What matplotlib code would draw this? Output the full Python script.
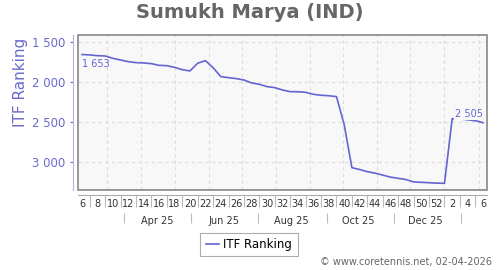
import matplotlib

matplotlib.use("Agg")
import matplotlib.dates as mdates
import matplotlib.pyplot as plt
import pandas as pd
from matplotlib.patches import Rectangle

# weekly ITF ranking, week 6 2025 -> week 6 2026
ranking = [
    1653, 1658, 1667, 1671, 1700, 1721, 1742, 1754, 1758, 1767,
    1788, 1792, 1813, 1842, 1858, 1762, 1729, 1817, 1929, 1942,
    1954, 1971, 2008, 2025, 2054, 2067, 2096, 2117, 2118, 2125,
    2150, 2162, 2168, 2179, 2530, 3067, 3090, 3117, 3135, 3160,
    3185, 3200, 3215, 3245, 3250, 3255, 3260, 3263, 2455, 2458,
    2468, 2480, 2505,
]
week_labels = ["6", "8", "10", "12", "14", "16", "18", "20", "22", "24",
               "26", "28", "30", "32", "34", "36", "38", "40", "42", "44",
               "46", "48", "50", "52", "2", "4", "6"]
month_labels = ["Apr 25", "Jun 25", "Aug 25", "Oct 25", "Dec 25"]
month_label_dates = ["2025-04-15", "2025-06-15", "2025-08-15",
                     "2025-10-15", "2025-12-15"]
month_sep_dates = ["2025-03-16", "2025-05-16", "2025-07-16",
                   "2025-09-16", "2025-11-16", "2026-01-16"]
grid_dates = ["2025-03-01", "2025-04-01", "2025-05-01", "2025-06-01",
              "2025-07-01", "2025-08-01", "2025-09-01", "2025-10-01",
              "2025-11-01", "2025-12-01", "2026-01-01", "2026-02-01"]
yticks = [1500, 2000, 2500, 3000]

dates = pd.date_range("2025-02-06", periods=len(ranking), freq="7D")
x = mdates.date2num(dates)

LINE = "#6464d2"
AXBLUE = "#6a6acc"
BG = "#f8f8f8"


def fmt(v):
    return f"{v:,}".replace(",", " ")


fig = plt.figure(figsize=(5, 2.7), dpi=100)
ax = fig.add_axes([0.156, 0.2963, 0.818, 0.574])
ax.set_facecolor(BG)

ax.plot(x, ranking, color=LINE, lw=1.2, label="ITF Ranking", zorder=3)

ax.set_xlim(x[0] - 3.6, x[-1] + 3.6)
ax.set_ylim(3346, 1409)

# grid
for d in mdates.date2num(pd.to_datetime(grid_dates)):
    ax.axvline(d, color="#dcdcdc", lw=0.8, ls=(0, (3, 3)), zorder=1)
ax.set_yticks(yticks, labels=[fmt(v) for v in yticks])
ax.yaxis.grid(True, color="#dcdcdc", lw=0.8, ls=(0, (3, 3)), zorder=1)
ax.set_axisbelow(True)

# frame + offset axes lines
for s in ("top", "right"):
    ax.spines[s].set_visible(False)
ax.spines["left"].set_position(("outward", 3.4))
ax.spines["left"].set_color("#b4b4e4")
ax.spines["bottom"].set_position(("outward", 3.6))
ax.spines["bottom"].set_color("#aaaaaa")
ax.add_patch(Rectangle((0, 0), 1, 1, transform=ax.transAxes, fill=False,
                       ec="#888888", lw=1.2, clip_on=False, zorder=5))

ax.tick_params(axis="y", length=2.5, color=AXBLUE, labelcolor=AXBLUE,
               labelsize=8.5, pad=3)

# week row
ax.set_xticks(x[::2], labels=week_labels)
ax.set_xticks(x[1::2], minor=True)
ax.tick_params(axis="x", which="major", length=0, pad=3, labelsize=7,
               labelcolor="#333333")
ax.tick_params(axis="x", which="minor", length=8.6, width=0.8,
               color="#bbbbbb")

# month row
sec = ax.secondary_xaxis(-0.148)
sec.spines["bottom"].set_visible(False)
sec.set_xticks(mdates.date2num(pd.to_datetime(month_sep_dates)),
               labels=[""] * len(month_sep_dates))
sec.set_xticks(mdates.date2num(pd.to_datetime(month_label_dates)),
               labels=month_labels, minor=True)
sec.tick_params(axis="x", which="major", length=7.5, width=0.8,
                color="#bbbbbb")
sec.tick_params(axis="x", which="minor", length=0, pad=2.5, labelsize=7,
                labelcolor="#333333")

# first / last value labels
ax.annotate(fmt(ranking[0]), xy=(x[0], ranking[0]), xytext=(0, -3),
            textcoords="offset points", ha="left", va="top",
            fontsize=7, color=LINE, zorder=6)
ax.annotate(fmt(ranking[-1]), xy=(x[-1], ranking[-1]), xytext=(0, 2.5),
            textcoords="offset points", ha="right", va="bottom",
            fontsize=7, color=LINE, zorder=6,
            bbox=dict(boxstyle="square,pad=0.1", fc=BG, ec="none"))

fig.text(0.5, 1 - 12 / 270, "Sumukh Marya (IND)", ha="center", va="center",
         fontsize=14, fontweight="bold", color="#666666")
fig.text(20.7 / 500, 1 - 82 / 270, "ITF Ranking", rotation=90, ha="center",
         va="center", fontsize=11, color=AXBLUE)

leg = fig.legend(loc="center", bbox_to_anchor=(0.498, 1 - 244.5 / 270),
                 fontsize=8.5, frameon=True, fancybox=False, handlelength=1.1,
                 handletextpad=0.4, borderpad=0.45, borderaxespad=0)
leg.get_frame().set_edgecolor("#999999")
leg.get_frame().set_linewidth(0.8)

fig.text(492 / 500, 1 - 262 / 270, "\u00a9 www.coretennis.net, 02-04-2026",
         ha="right", va="center", fontsize=7, color="#666666")

fig.savefig("out.png", dpi=100)
